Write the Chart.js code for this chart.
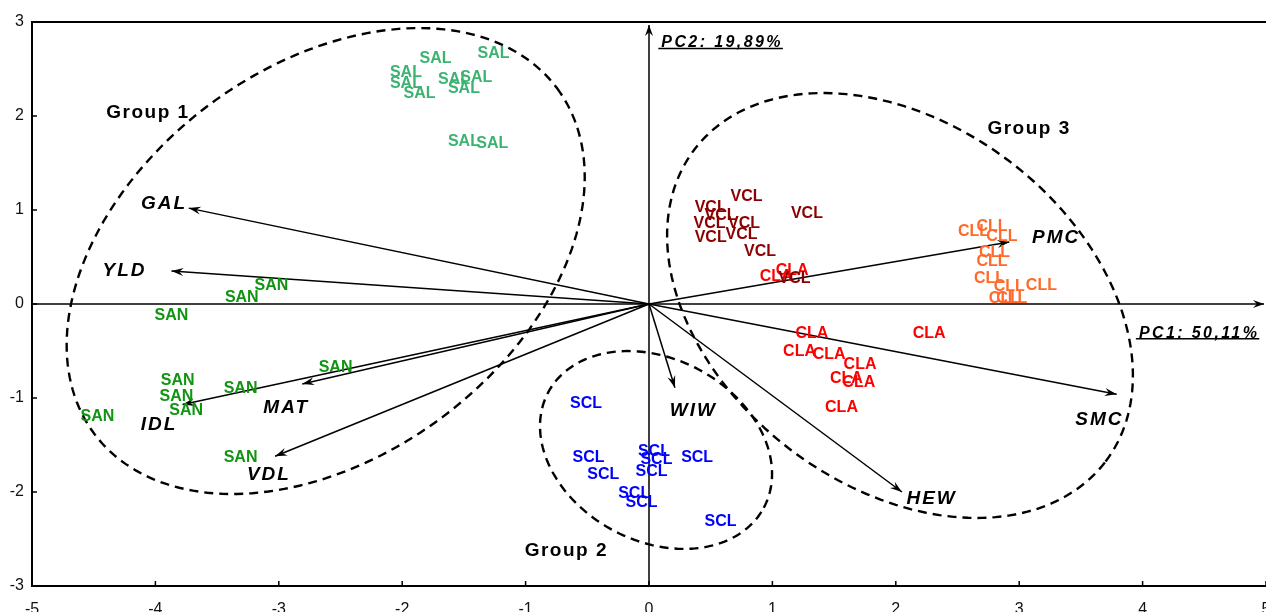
<!DOCTYPE html>
<html>
<head>
<meta charset="utf-8">
<script src="https://cdn.jsdelivr.net/npm/chart.js@4.4.0/dist/chart.umd.min.js"></script>
<style>
  html, body { margin: 0; padding: 0; background: #fff; }
</style>
</head>
<body>
<canvas id="pca" width="1266" height="612"></canvas>
<script>
// observation scores on PC1 / PC2, one pair of arrays per sample class
const classNames = ['SAL', 'SAN', 'CLA', 'VCL', 'CLL', 'SCL'];
const classColors = ['#3cb371', '#119411', '#ff0000', '#8b0000', '#ff6a2a', '#0000ff'];

const salX = [-1.73, -1.26, -1.97, -1.97, -1.86, -1.58, -1.40, -1.50, -1.50, -1.27];
const salY = [2.61, 2.66, 2.46, 2.34, 2.24, 2.39, 2.41, 2.29, 1.73, 1.71];
const sanX = [-3.06, -3.30, -3.87, -2.54, -3.82, -3.31, -3.83, -3.75, -4.47, -3.31];
const sanY = [0.20, 0.07, -0.12, -0.68, -0.82, -0.90, -0.99, -1.13, -1.20, -1.63];
const claX = [1.32, 1.22, 1.46, 1.71, 1.60, 1.70, 1.56, 2.27, 1.16, 1.03];
const claY = [-0.31, -0.51, -0.54, -0.64, -0.79, -0.84, -1.10, -0.32, 0.36, 0.29];
const vclX = [0.79, 1.28, 0.50, 0.58, 0.77, 0.49, 0.50, 0.75, 0.90, 1.18];
const vclY = [1.14, 0.96, 1.03, 0.94, 0.86, 0.86, 0.71, 0.74, 0.56, 0.27];
const cllX = [2.63, 2.78, 2.86, 2.80, 2.78, 2.76, 2.92, 3.18, 2.88, 2.94];
const cllY = [0.77, 0.82, 0.72, 0.55, 0.45, 0.27, 0.19, 0.20, 0.06, 0.06];
const sclX = [-0.51, -0.49, -0.37, 0.04, 0.06, 0.02, 0.39, -0.12, -0.06, 0.58];
const sclY = [-1.06, -1.63, -1.82, -1.57, -1.65, -1.78, -1.63, -2.02, -2.11, -2.32];

const classX = [salX, sanX, claX, vclX, cllX, sclX];
const classY = [salY, sanY, claY, vclY, cllY, sclY];

// variable loadings (arrow tips) and where their names sit
const varNames = ['GAL', 'YLD', 'MAT', 'IDL', 'VDL', 'WIW', 'HEW', 'SMC', 'PMC'];
const varX = [-3.73, -3.87, -2.81, -3.78, -3.03, 0.21, 2.05, 3.79, 2.92];
const varY = [1.02, 0.35, -0.85, -1.07, -1.62, -0.89, -2.00, -0.96, 0.66];
const varLabelX = [-3.93, -4.25, -2.94, -3.97, -3.08, 0.36, 2.29, 3.65, 3.30];
const varLabelY = [1.07, 0.35, -1.10, -1.28, -1.82, -1.14, -2.07, -1.23, 0.70];

// group ellipses: centre and two half-axis vectors, all in PC units
const groupNames = ['Group 1', 'Group 2', 'Group 3'];
const groupLabelX = [-4.06, -0.67, 3.08];
const groupLabelY = [2.03, -2.62, 1.86];
const ellCX = [-2.62, 0.057, 2.034];
const ellCY = [0.457, -1.553, -0.016];
const ellAX = [1.874, 0.873, 1.666];
const ellAY = [1.840, -0.615, -1.660];
const ellBX = [0.946, 0.349, 0.887];
const ellBY = [-1.660, 0.854, 1.534];

const xTicks = [-5, -4, -3, -2, -1, 0, 1, 2, 3, 4, 5];
const yTicks = [-3, -2, -1, 0, 1, 2, 3];

const pc1Label = 'PC1: 50,11%';
const pc2Label = 'PC2: 19,89%';

const FONT = '"Liberation Sans", Arial, sans-serif';

function drawArrow(ctx, x0, y0, x1, y1, len, half) {
  ctx.beginPath();
  ctx.moveTo(x0, y0);
  ctx.lineTo(x1, y1);
  ctx.stroke();
  const a = Math.atan2(y1 - y0, x1 - x0);
  const c = Math.cos(a), s = Math.sin(a);
  ctx.beginPath();
  ctx.moveTo(x1, y1);
  ctx.lineTo(x1 - len * c + half * s, y1 - len * s - half * c);
  ctx.lineTo(x1 - 0.65 * len * c, y1 - 0.65 * len * s);
  ctx.lineTo(x1 - len * c - half * s, y1 - len * s + half * c);
  ctx.closePath();
  ctx.fill();
}

const biplot = {
  id: 'biplot',
  afterDatasetsDraw(chart) {
    const ctx = chart.ctx;
    const xs = chart.scales.x, ys = chart.scales.y;
    const area = chart.chartArea;
    const px = v => xs.getPixelForValue(v);
    const py = v => ys.getPixelForValue(v);

    ctx.save();

    // frame (left, top, bottom) + inward ticks
    ctx.strokeStyle = '#000';
    ctx.lineWidth = 2;
    ctx.beginPath();
    ctx.moveTo(area.right + 2, area.top);
    ctx.lineTo(area.left, area.top);
    ctx.lineTo(area.left, area.bottom);
    ctx.lineTo(area.right + 2, area.bottom);
    ctx.stroke();
    ctx.lineWidth = 1.5;
    ctx.beginPath();
    xTicks.forEach(t => { ctx.moveTo(px(t), area.bottom); ctx.lineTo(px(t), area.bottom - 5); });
    yTicks.forEach(t => { ctx.moveTo(area.left, py(t)); ctx.lineTo(area.left + 5, py(t)); });
    ctx.stroke();

    // group ellipses
    ctx.lineWidth = 2.4;
    ctx.setLineDash([9, 6]);
    groupNames.forEach((g, i) => {
      ctx.beginPath();
      for (let k = 0; k <= 200; k++) {
        const t = k / 200 * Math.PI * 2;
        const x = ellCX[i] + ellAX[i] * Math.cos(t) + ellBX[i] * Math.sin(t);
        const y = ellCY[i] + ellAY[i] * Math.cos(t) + ellBY[i] * Math.sin(t);
        if (k === 0) ctx.moveTo(px(x), py(y)); else ctx.lineTo(px(x), py(y));
      }
      ctx.closePath();
      ctx.stroke();
    });
    ctx.setLineDash([]);

    // PC axes through the origin
    ctx.lineWidth = 1.5;
    ctx.fillStyle = '#000';
    drawArrow(ctx, area.left, py(0), area.right - 2, py(0), 11, 4);
    drawArrow(ctx, px(0), area.bottom, px(0), area.top + 3, 11, 4);

    // loading arrows
    const vmeta = chart.getDatasetMeta(classNames.length);
    vmeta.data.forEach(el => {
      drawArrow(ctx, px(0), py(0), el.x, el.y, 12, 4);
    });

    // sample labels
    ctx.textAlign = 'center';
    ctx.textBaseline = 'middle';
    ctx.font = 'bold 16px ' + FONT;
    classNames.forEach((name, i) => {
      ctx.fillStyle = classColors[i];
      chart.getDatasetMeta(i).data.forEach(el => {
        ctx.fillText(name, el.x, el.y);
      });
    });

    // variable names
    ctx.fillStyle = '#000';
    ctx.font = 'italic bold 19px ' + FONT;
    ctx.letterSpacing = '2px';
    varNames.forEach((n, i) => {
      ctx.fillText(n, px(varLabelX[i]), py(varLabelY[i]));
    });

    // group names
    ctx.font = 'bold 19px ' + FONT;
    ctx.letterSpacing = '1.5px';
    groupNames.forEach((g, i) => {
      ctx.fillText(g, px(groupLabelX[i]), py(groupLabelY[i]));
    });

    // PC titles, underlined
    ctx.font = 'italic bold 16px ' + FONT;
    ctx.letterSpacing = '2.4px';
    ctx.textAlign = 'left';
    ctx.textBaseline = 'alphabetic';
    ctx.lineWidth = 1.5;
    [[pc1Label, 3.97, -0.36], [pc2Label, 0.10, 2.73]].forEach(([txt, x, y]) => {
      const tx = px(x), ty = py(y);
      ctx.fillText(txt, tx, ty);
      const w = ctx.measureText(txt).width;
      ctx.beginPath();
      ctx.moveTo(tx - 3, ty + 1);
      ctx.lineTo(tx + w, ty + 1);
      ctx.stroke();
    });

    ctx.restore();
  }
};

const datasets = classNames.map((name, i) => ({
  label: name,
  data: classX[i].map((x, j) => ({ x: x, y: classY[i][j] })),
  pointRadius: 0,
  pointHoverRadius: 0
}));
datasets.push({
  label: 'variables',
  data: varX.map((x, j) => ({ x: x, y: varY[j] })),
  pointRadius: 0,
  pointHoverRadius: 0
});

const ctx = document.getElementById('pca').getContext('2d');
const chart = new Chart(ctx, {
  type: 'scatter',
  data: { datasets: datasets },
  options: {
    responsive: false,
    animation: false,
    events: [],
    layout: { padding: { top: 22, right: 0, left: 0, bottom: 0 } },
    plugins: {
      legend: { display: false },
      tooltip: { enabled: false }
    },
    scales: {
      x: {
        type: 'linear',
        min: -5,
        max: 5,
        afterBuildTicks: s => { s.ticks = xTicks.map(v => ({ value: v })); },
        afterFit: s => { s.height = 26; s.paddingLeft = 0; s.paddingRight = 0; },
        grid: { display: false, drawTicks: false },
        border: { display: false },
        ticks: { padding: 14, color: '#111', maxRotation: 0, autoSkip: false, font: { family: FONT, size: 16 } }
      },
      y: {
        type: 'linear',
        min: -3,
        max: 3,
        afterBuildTicks: s => { s.ticks = yTicks.map(v => ({ value: v })); },
        afterFit: s => { s.width = 32; s.paddingTop = 0; s.paddingBottom = 0; },
        grid: { display: false, drawTicks: false },
        border: { display: false },
        ticks: { padding: 8, color: '#111', autoSkip: false, font: { family: FONT, size: 16 } }
      }
    }
  },
  plugins: [biplot]
});
</script>
</body>
</html>
